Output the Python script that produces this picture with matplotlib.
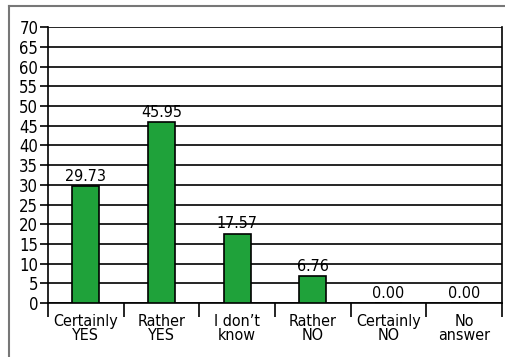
import matplotlib.pyplot as plt
import numpy as np
from matplotlib.lines import Line2D

categories = ['Certainly\nYES', 'Rather\nYES', 'I don\u2019t\nknow', 'Rather\nNO', 'Certainly\nNO', 'No\nanswer']
values = [29.73, 45.95, 17.57, 6.76, 0.00, 0.00]

plt.rcParams['font.family'] = ['DejaVu Sans']
plt.rcParams['font.stretch'] = 'condensed'
plt.rcParams['font.size'] = 11

fig = plt.figure(figsize=(5.05, 3.57), dpi=100)
ax = fig.add_axes([0.095, 0.151, 0.899, 0.773])

x = np.arange(len(values))
ax.bar(x, values, width=0.36, color='#1fa23a', edgecolor='black', linewidth=1.2, zorder=3)
for xi, v in zip(x, values):
    ax.text(xi, v + 0.6, f'{v:.2f}', ha='center', va='bottom', fontsize=11.5, zorder=4)

ax.set_ylim(0, 70)
ax.set_xlim(-0.5, len(values) - 0.5)
ax.set_yticks(range(0, 71, 5))
ax.yaxis.grid(True, color='black', linewidth=1.2, zorder=0)
ax.set_axisbelow(True)
ax.tick_params(axis='y', length=6, width=1.2, pad=1, labelsize=12)

ax.set_xticks(x)
ax.set_xticklabels(categories, linespacing=0.9)
ax.set_xticks(np.arange(-0.5, len(values)), minor=True)
ax.tick_params(axis='x', which='major', length=0, pad=8, labelsize=11.5)
ax.tick_params(axis='x', which='minor', length=10, width=1.2)

for s in ['left', 'right', 'bottom']:
    ax.spines[s].set_linewidth(1.2)
ax.spines['top'].set_visible(False)

# outer frame (left and top only)
fx = 9 / 505
fy = 1 - 6 / 357
fig.add_artist(Line2D([fx, fx], [0, fy], color='#777777', linewidth=1.5, transform=fig.transFigure))
fig.add_artist(Line2D([fx, 1], [fy, fy], color='#777777', linewidth=1.5, transform=fig.transFigure))

fig.savefig('out.png', dpi=100)
